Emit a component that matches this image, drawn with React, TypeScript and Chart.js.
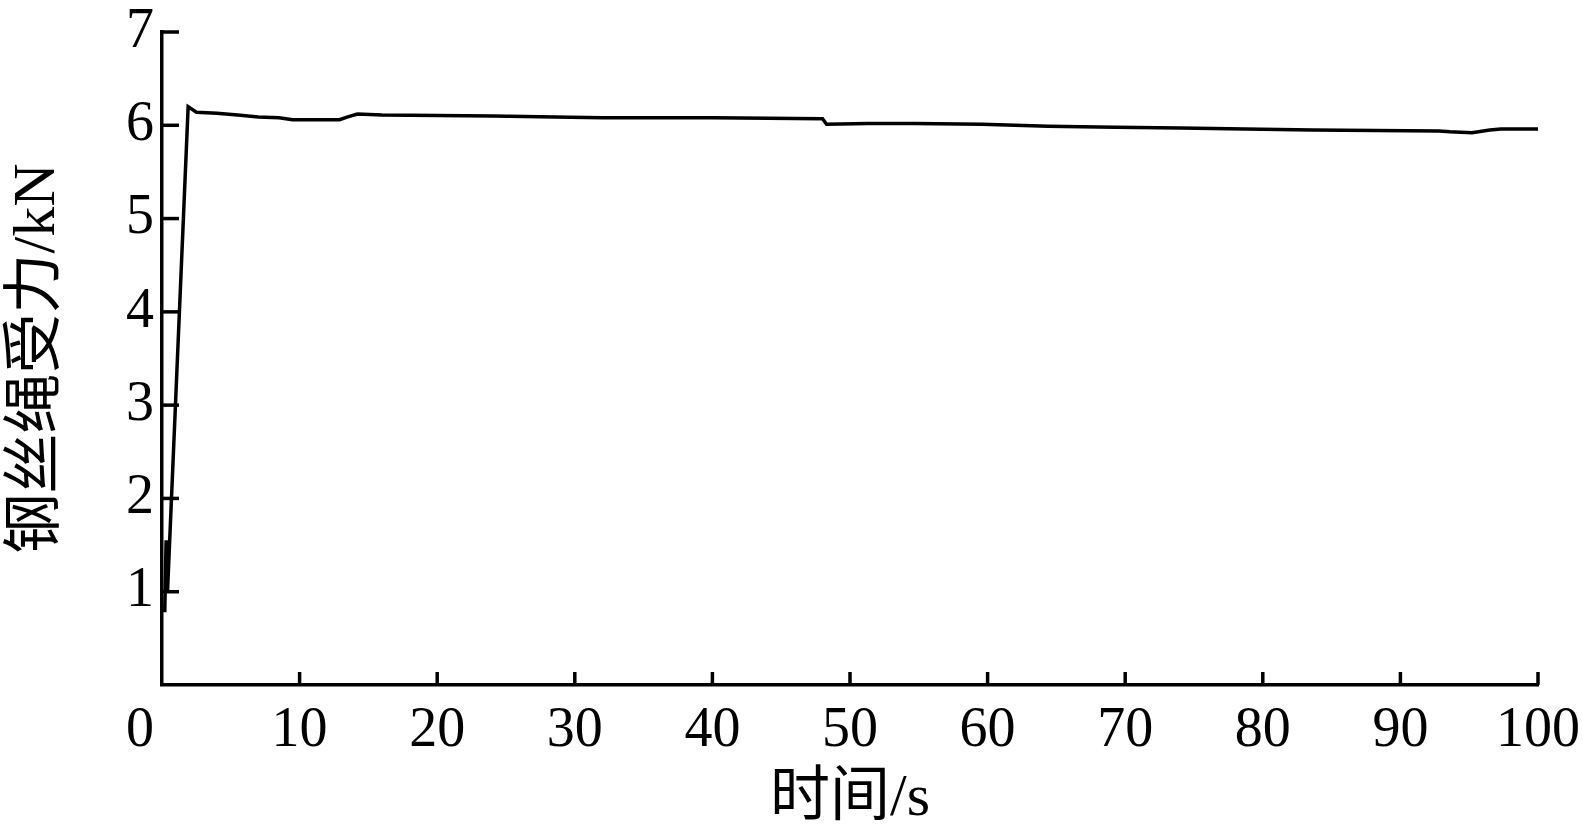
import React, { useEffect, useRef } from "react";
import { Chart, registerables } from "chart.js";

Chart.register(...registerables);

// time (s)
const times = [0.2, 0.3, 0.4, 1.9, 2.5, 4, 5.5, 7, 8.5, 9.5, 12.9, 13.5, 14.2, 16, 24, 32, 40, 48, 48.3, 51.3, 54.7, 59.6, 64.4, 69.3, 74, 78.7, 83.6, 92.8, 93.6, 95.2, 96.5, 97.3, 100];
// wire rope force (kN)
const forces = [0.78, 1.55, 1.0, 6.2, 6.14, 6.13, 6.11, 6.09, 6.08, 6.06, 6.06, 6.09, 6.12, 6.11, 6.1, 6.08, 6.08, 6.07, 6.01, 6.02, 6.02, 6.01, 5.99, 5.98, 5.97, 5.96, 5.95, 5.94, 5.93, 5.92, 5.95, 5.96, 5.96];

const xTicks = [0, 10, 20, 30, 40, 50, 60, 70, 80, 90, 100];
const yTicks = [0, 1, 2, 3, 4, 5, 6, 7];
const xTitle = "时间/s";
const yTitle = "钢丝绳受力/kN";

const FONT = "'Liberation Serif', 'Times New Roman', 'Noto Sans CJK SC', serif";

const inwardTicks = {
  id: "inwardTicks",
  afterDraw(chart: any) {
    const { ctx, chartArea, scales } = chart;
    const x = scales.x;
    const y = scales.y;
    ctx.save();
    ctx.strokeStyle = "#000";
    ctx.lineWidth = 3.5;
    ctx.lineCap = "butt";
    yTicks.forEach((v) => {
      if (v === 0) return;
      const py = y.getPixelForValue(v);
      ctx.beginPath();
      ctx.moveTo(chartArea.left, py);
      ctx.lineTo(chartArea.left + 17, py);
      ctx.stroke();
    });
    xTicks.forEach((v) => {
      if (v === 0) return;
      const px = x.getPixelForValue(v);
      ctx.beginPath();
      ctx.moveTo(px, chartArea.bottom);
      ctx.lineTo(px, chartArea.bottom - 13);
      ctx.stroke();
    });
    ctx.font = `56px ${FONT}`;
    ctx.fillStyle = "#000";
    ctx.textAlign = "center";
    ctx.textBaseline = "middle";
    ctx.fillText(String(xTicks[0]), x.getPixelForValue(xTicks[0]) - 22, chartArea.bottom + 46);
    ctx.restore();
  },
};

export default function App() {
  const ref = useRef<HTMLCanvasElement>(null);
  useEffect(() => {
    if (!ref.current) return;
    const chart = new Chart(ref.current, {
      type: "line",
      data: {
        datasets: [
          {
            data: times.map((t, i) => ({ x: t, y: forces[i] })),
            borderColor: "#000",
            borderWidth: 3.5,
            pointRadius: 0,
            tension: 0,
            fill: false,
          },
        ],
      },
      options: {
        animation: false,
        responsive: false,
        devicePixelRatio: 1,
        layout: { padding: { left: 0, top: 32, right: 45, bottom: 0 } },
        plugins: { legend: { display: false }, tooltip: { enabled: false } },
        scales: {
          x: {
            type: "linear",
            min: 0,
            max: 100,
            afterFit: (s: any) => {
              s.height = 148;
              s.paddingLeft = 0;
              s.paddingRight = 0;
            },
            afterBuildTicks: (s: any) => {
              s.ticks = xTicks.map((v) => ({ value: v }));
            },
            grid: { display: false, drawTicks: false },
            border: { display: true, color: "#000", width: 3.5 },
            ticks: {
              color: "#000",
              padding: 18,
              maxRotation: 0,
              font: { family: FONT, size: 56, lineHeight: 1 },
              callback: (v: any) => (v === 0 ? "" : String(v)),
            },
            title: {
              display: true,
              text: xTitle,
              color: "#000",
              font: { family: FONT, size: 60, lineHeight: 1 },
              padding: { top: 0, bottom: 4 },
            },
          },
          y: {
            type: "linear",
            min: 0,
            max: 7,
            afterFit: (s: any) => {
              s.width = 162;
              s.paddingTop = 0;
              s.paddingBottom = 0;
            },
            afterBuildTicks: (s: any) => {
              s.ticks = yTicks.map((v) => ({ value: v }));
            },
            grid: { display: false, drawTicks: false },
            border: { display: true, color: "#000", width: 3.5 },
            ticks: {
              color: "#000",
              padding: 8,
              font: { family: FONT, size: 56, lineHeight: 1 },
              callback: (v: any) => (v === 0 ? "" : String(v)),
            },
            title: {
              display: true,
              text: yTitle,
              color: "#000",
              font: { family: FONT, size: 60, lineHeight: 1 },
              padding: { top: 8, bottom: 0 },
            },
          },
        },
      },
      plugins: [inwardTicks],
    });
    return () => chart.destroy();
  }, []);
  return (
    <div style={{ position: "fixed", left: 0, top: 0, width: 1583, height: 833, background: "#fff" }}>
      <canvas ref={ref} width={1583} height={833} style={{ display: "block" }} />
    </div>
  );
}
